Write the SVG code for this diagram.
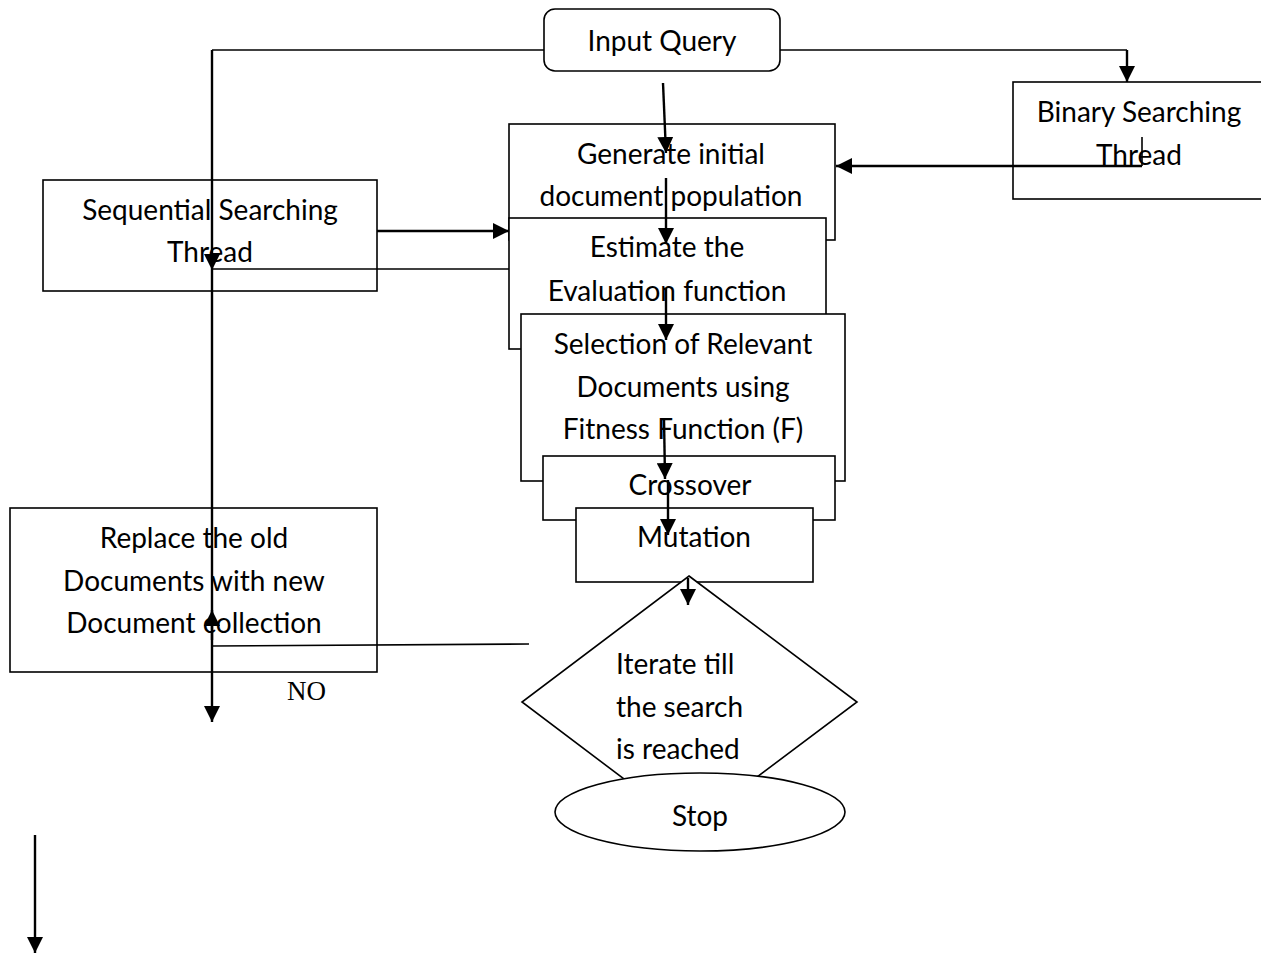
<svg xmlns="http://www.w3.org/2000/svg" width="1261" height="959" viewBox="0 0 1261 959">
<style>
.box{fill:#fff;stroke:#000;stroke-width:1.6}
.t{font-family:Lato,"Open Sans",sans-serif;font-size:28px;fill:#000;text-anchor:middle}
.c{fill:none;stroke:#000;stroke-width:2.4}
.th{fill:none;stroke:#000;stroke-width:1.6}
</style>
<defs>
<marker id="a" viewBox="0 0 10 10" refX="10" refY="5" markerWidth="16" markerHeight="16" markerUnits="userSpaceOnUse" orient="auto">
<path d="M0,0 L10,5 L0,10 Z" fill="#000"/>
</marker>
</defs>
<rect width="1261" height="959" fill="#fff"/>

<g id="binary"><rect class="box" x="1013" y="82" width="252" height="117"/>
<text class="t" x="1139" y="122">Binary Searching</text><text class="t" x="1139" y="165">Thread</text></g>

<g id="sequential"><rect class="box" x="43" y="180" width="334" height="111"/>
<text class="t" x="210" y="220">Sequential Searching</text><text class="t" x="210" y="262">Thread</text></g>

<g id="replace"><rect class="box" x="10" y="508" width="367" height="164"/>
<text class="t" x="194" y="548">Replace the old</text><text class="t" x="194" y="591">Documents with new</text><text class="t" x="194" y="633">Document collection</text></g>

<g id="generate"><rect class="box" x="509" y="124" width="326" height="116"/>
<text class="t" x="671" y="164">Generate initial</text><text class="t" x="671" y="206">document population</text></g>

<g id="estimate"><rect class="box" x="509" y="218" width="317" height="131"/>
<text class="t" x="667" y="257">Estimate the</text><text class="t" x="667" y="301">Evaluation function</text></g>

<g id="selection"><rect class="box" x="521" y="314" width="324" height="167"/>
<text class="t" x="683" y="354">Selection of Relevant</text><text class="t" x="683" y="397">Documents using</text><text class="t" x="683" y="439">Fitness Function (F)</text></g>

<g id="crossover"><rect class="box" x="543" y="456" width="292" height="64"/>
<text class="t" x="690" y="495">Crossover</text></g>

<g id="mutation"><rect class="box" x="576" y="508" width="237" height="74"/>
<text class="t" x="694" y="547">Mutation</text></g>

<g id="iterate"><polygon class="box" points="689,576 857,702 689,828 522,702"/>
<text class="t" x="616" y="674" style="text-anchor:start">Iterate till</text>
<text class="t" x="616" y="717" style="text-anchor:start">the search</text>
<text class="t" x="616" y="759" style="text-anchor:start">is reached</text></g>

<g id="stop"><ellipse class="box" cx="700" cy="812" rx="145" ry="39"/>
<text class="t" x="700" y="826">Stop</text></g>

<g id="input"><rect class="box" x="544" y="9" width="236" height="62" rx="11"/>
<text class="t" x="662" y="51">Input Query</text></g>

<g id="connectors">
<path class="th" d="M544,50 H212"/>
<path class="c" d="M212,50 V270" marker-end="url(#a)"/>
<path class="c" d="M212,270 V722" marker-end="url(#a)"/>
<path class="c" d="M212,640 V610" marker-end="url(#a)"/>
<path class="th" d="M212,269 H509"/>
<path class="th" d="M212,646 L529,644"/>
<path class="th" d="M780,50 H1127"/>
<path class="c" d="M1127,50 V82" marker-end="url(#a)"/>
<path class="th" d="M1142,137 V166"/>
<path class="c" d="M1142,166 H836" marker-end="url(#a)"/>
<path class="c" d="M377,231 H509" marker-end="url(#a)"/>
<path class="c" d="M663,83 L666,153" marker-end="url(#a)"/>
<path class="c" d="M666,178 V244" marker-end="url(#a)"/>
<path class="c" d="M666,288 V340" marker-end="url(#a)"/>
<path class="c" d="M664,418 L665,479" marker-end="url(#a)"/>
<path class="c" d="M668,480 V535" marker-end="url(#a)"/>
<path class="c" d="M688,578 V605" marker-end="url(#a)"/>
<path class="c" d="M35,835 V953" marker-end="url(#a)"/>
</g>
<text x="287" y="700" style="font-family:'Liberation Serif',serif;font-size:27px">NO</text>
</svg>
